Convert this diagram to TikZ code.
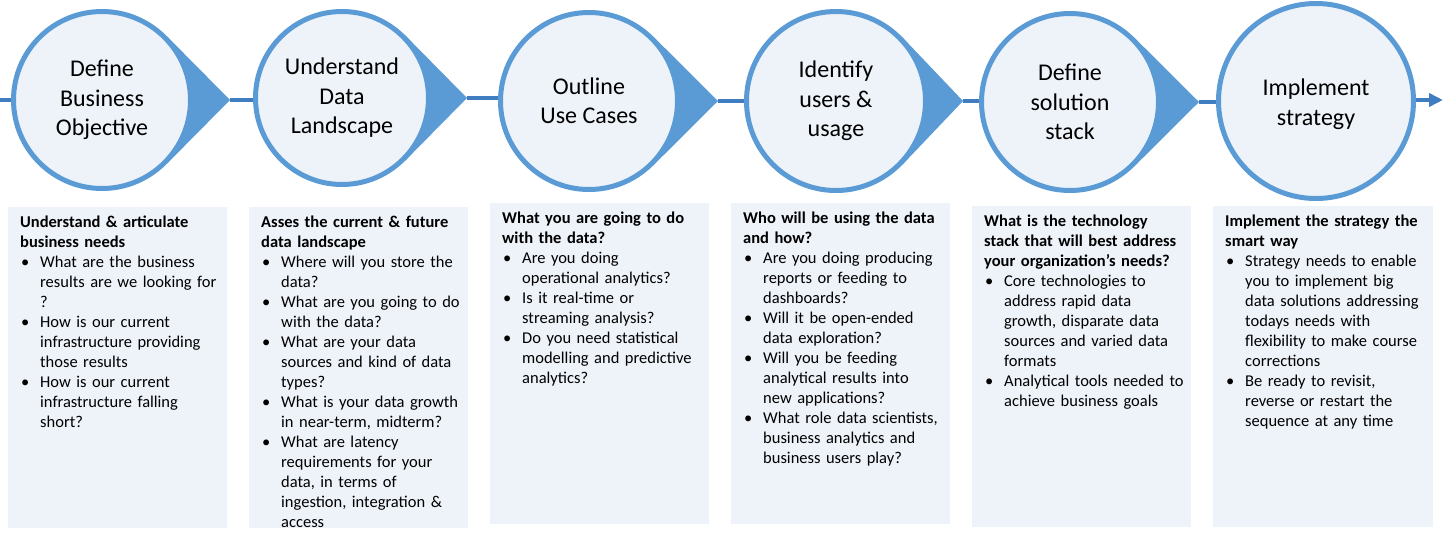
\documentclass[tikz,border=0pt]{standalone}
\usepackage{fontspec}
\setmainfont{Carlito}
\usetikzlibrary{calc,arrows.meta}
\definecolor{ringblue}{HTML}{5B9BD5}
\definecolor{lineblue}{HTML}{3F7DC0}
\definecolor{paleblue}{HTML}{EEF3FA}
\definecolor{boxfill}{HTML}{EEF2F9}
\newcommand\nl{\hfil\break}
\newcommand\itm{\par\noindent\hangindent=20pt\hangafter=1\makebox[20pt][l]{\hspace{1pt}\textbullet}}
\newcommand\tear[3]{\fill[tearfill] ($(#1)+(#3,0)$) -- ($(#1)+({acos(#2/#3)}:#2)$) -- (#1) -- ($(#1)+({-acos(#2/#3)}:#2)$) -- cycle;}
\tikzset{
 circ/.style={circle, draw=ringblue, line width=5pt, fill=paleblue, inner sep=0pt, align=center, font=\fontsize{24}{29.5}\selectfont},
 tearfill/.style={fill=ringblue},
 conn/.style={draw=lineblue, line width=4pt},
 infobox/.style={fill=boxfill, anchor=north west, inner sep=0pt, minimum width=219pt, minimum height=321pt},
 infotext/.style={anchor=base west, inner sep=0pt, text width=212pt, font=\fontsize{16.5}{20}\selectfont\raggedright}
}
\begin{document}
\begin{tikzpicture}[x=1pt,y=1pt]
\useasboundingbox (0,0) rectangle (1456,-544);
% circle centres and tips
\coordinate (p1) at (102,-100);
\coordinate (p2) at (342,-98);
\coordinate (p3) at (589,-101);
\coordinate (p4) at (836,-101);
\coordinate (p5) at (1070,-102);
\coordinate (p6) at (1316,-101);
\coordinate (t1) at ($(p1)+(128,0)$);
\coordinate (t2) at ($(p2)+(125,0)$);
\coordinate (t3) at ($(p3)+(129,0)$);
\coordinate (t4) at ($(p4)+(127,0)$);
\coordinate (t5) at ($(p5)+(129,0)$);
\tear{p1}{91}{128}
\tear{p2}{89}{125}
\tear{p3}{91}{129}
\tear{p4}{92}{127}
\tear{p5}{91}{129}
\node[circ, minimum size=177pt] (c1) at (p1) {Define\\Business\\Objective};
\node[circ, minimum size=173pt] (c2) at (p2) {Understand\\Data\\Landscape};
\node[circ, minimum size=177pt] (c3) at (p3) {Outline\\Use Cases};
\node[circ, minimum size=179pt] (c4) at (p4) {Identify\\users \&\\usage};
\node[circ, minimum size=177pt] (c5) at (p5) {Define\\solution\\stack};
\node[circ, minimum size=195pt] (c6) at (p6) {};
\node[align=center, font=\fontsize{24}{29.5}\selectfont, inner sep=0pt] (l6) at ($(p6)+(0,-3)$) {Implement\\strategy};
% connectors
\coordinate (s0) at (0,-100);
\coordinate (e0) at (1443,-100);
\draw[conn] (s0) -- (s0 -| c1.west);
\draw[conn] (t1) -- (t1 -| c2.west);
\draw[conn] (t2) -- (t2 -| c3.west);
\draw[conn] (t3) -- (t3 -| c4.west);
\draw[conn] (t4) -- (t4 -| c5.west);
\draw[conn] (t5) -- (t5 -| c6.west);
\draw[conn, -{Triangle[length=14pt,width=13pt]}] (e0 -| c6.east) -- (e0);
% boxes
\node[infobox] (b1) at (8,-207) {};
\node[infobox] (b2) at (249,-207) {};
\node[infobox] (b3) at (490,-203) {};
\node[infobox] (b4) at (731,-203) {};
\node[infobox] (b5) at (972,-206) {};
\node[infobox, minimum width=220pt] (b6) at (1213,-206) {};
\node[infotext] (x1) at ($(b1.north west)+(12,-20)$) {\textbf{Understand \& articulate\nl business needs}
\itm What are the business\nl results are we looking for\nl ?
\itm How is our current\nl infrastructure providing\nl those results
\itm How is our current\nl infrastructure falling\nl short?\par};
\node[infotext] (x2) at ($(b2.north west)+(12,-20)$) {\textbf{Asses the current \& future\nl data landscape}
\itm Where will you store the\nl data?
\itm What are you going to do\nl with the data?
\itm What are your data\nl sources and kind of data\nl types?
\itm What is your data growth\nl in near-term, midterm?
\itm What are latency\nl requirements for your\nl data, in terms of\nl ingestion, integration \&\nl access\par};
\node[infotext] (x3) at ($(b3.north west)+(12,-20)$) {\textbf{What you are going to do\nl with the data?}
\itm Are you doing\nl operational analytics?
\itm Is it real-time or\nl streaming analysis?
\itm Do you need statistical\nl modelling and predictive\nl analytics?\par};
\node[infotext] (x4) at ($(b4.north west)+(12,-20)$) {\textbf{Who will be using the data\nl and how?}
\itm Are you doing producing\nl reports or feeding to\nl dashboards?
\itm Will it be open-ended\nl data exploration?
\itm Will you be feeding\nl analytical results into\nl new applications?
\itm What role data scientists,\nl business analytics and\nl business users play?\par};
\node[infotext] (x5) at ($(b5.north west)+(12,-20)$) {\textbf{What is the technology\nl stack that will best address\nl your organization’s needs?}
\itm Core technologies to\nl address rapid data\nl growth, disparate data\nl sources and varied data\nl formats
\itm Analytical tools needed to\nl achieve business goals\par};
\node[infotext] (x6) at ($(b6.north west)+(12,-20)$) {\textbf{Implement the strategy the\nl smart way}
\itm Strategy needs to enable\nl you to implement big\nl data solutions addressing\nl todays needs with\nl flexibility to make course\nl corrections
\itm Be ready to revisit,\nl reverse or restart the\nl sequence at any time\par};
\end{tikzpicture}
\end{document}
